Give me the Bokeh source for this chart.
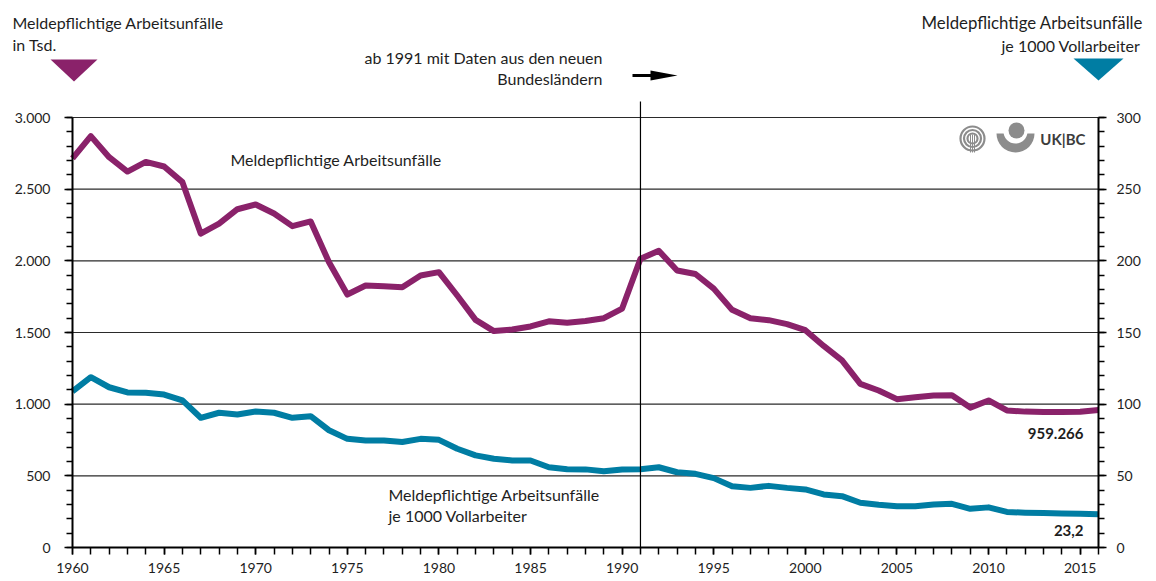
from bokeh.plotting import figure
from bokeh.models import (Range1d, LinearAxis, FixedTicker, Label, PolyAnnotation, Arrow)
from bokeh.embed import file_html
from bokeh.resources import INLINE

years = list(range(1960, 2017))
accidents_tsd = [2715, 2870, 2723, 2623, 2690, 2658, 2549, 2190, 2260, 2360,
                 2393, 2330, 2242, 2275, 1990, 1765, 1828, 1822, 1815, 1898,
                 1921, 1758, 1588, 1510, 1521, 1542, 1578, 1568, 1580, 1600,
                 1667, 2015, 2070, 1933, 1908, 1806, 1658, 1600, 1586, 1558,
                 1516, 1406, 1305, 1142, 1095, 1035, 1048, 1060, 1062, 976,
                 1026, 956, 948, 946, 946, 947, 959.266]
rate_per_1000 = [109.0, 118.8, 111.8, 108.2, 108.0, 106.7, 102.6, 90.5, 94.0, 92.8,
                 94.9, 94.0, 90.5, 91.6, 81.8, 75.8, 74.7, 74.7, 73.6, 75.8,
                 75.1, 68.9, 64.3, 61.9, 60.7, 60.7, 56.0, 54.6, 54.5, 53.2,
                 54.4, 54.6, 56.0, 52.5, 51.4, 48.4, 42.8, 41.6, 43.0, 41.6,
                 40.5, 37.0, 35.8, 31.2, 29.8, 28.8, 28.8, 30.0, 30.5, 27.0,
                 28.0, 24.8, 24.3, 24.0, 23.7, 23.5, 23.2]

left_ticks = [0, 500, 1000, 1500, 2000, 2500, 3000]
left_labels = ["0", "500", "1.000", "1.500", "2.000", "2.500", "3.000"]
right_ticks = [0, 50, 100, 150, 200, 250, 300]
x_label_years = [1960, 1965, 1970, 1975, 1980, 1985, 1990, 1995, 2000, 2005, 2010, 2015]

PURPLE = "#8A226A"
TEAL = "#007DA3"
FONT = "Lato"
TXT = "#1e1e1e"

W, H = 1156, 581
# plot-area placement on the canvas (pixels)
PX_L, PX_R, PX_T, PX_B = 72, 1098, 117, 547
X0, X1 = 1960, 2016
YMAX, RMAX = 3000, 300
ppy = (PX_R - PX_L) / (X1 - X0)
ppu = (PX_B - PX_T) / YMAX

def xr(px):
    return X0 + (px - PX_L) / ppy

def yl(py):
    return (PX_B - py) / ppu

p = figure(width=W, height=H, output_backend="svg", toolbar_location=None,
           x_range=Range1d(xr(0), xr(W)), y_range=Range1d(yl(H), yl(0)),
           x_axis_location=None, y_axis_location=None,
           min_border=0, min_border_left=0, min_border_right=0,
           min_border_top=0, min_border_bottom=0)
p.outline_line_color = None
p.grid.visible = False
p.extra_y_ranges = {"right": Range1d(yl(H) * RMAX / YMAX, yl(0) * RMAX / YMAX)}

# grid lines (between axes)
grid_y = left_ticks[1:]
p.segment(x0=[X0] * len(grid_y), x1=[X1] * len(grid_y), y0=grid_y, y1=grid_y,
          line_color="#2a2a2a", line_width=1.1)

xa = LinearAxis(fixed_location=0, bounds=(X0, X1),
                ticker=FixedTicker(ticks=x_label_years, minor_ticks=years))
ya = LinearAxis(fixed_location=X0, bounds=(0, YMAX),
                ticker=FixedTicker(ticks=left_ticks, minor_ticks=list(range(0, YMAX + 1, 100))))
ya.major_label_overrides = {t: l for t, l in zip(left_ticks, left_labels)}
ra = LinearAxis(y_range_name="right", fixed_location=X1, bounds=(0, RMAX),
                ticker=FixedTicker(ticks=right_ticks, minor_ticks=list(range(0, RMAX + 1, 10))))
p.add_layout(xa, "below")
p.add_layout(ya, "left")
p.add_layout(ra, "right")

for ax in [xa, ya, ra]:
    ax.axis_line_color = "black"
    ax.axis_line_width = 2
    ax.major_tick_line_color = "black"
    ax.minor_tick_line_color = "black"
    ax.major_tick_line_width = 1.5
    ax.minor_tick_line_width = 1.5
    ax.major_tick_in = 0
    ax.minor_tick_in = 0
    ax.major_label_text_font = FONT
    ax.major_label_text_font_size = "14px"
    ax.major_label_text_color = TXT

xa.major_tick_out = 7
xa.minor_tick_out = 7
xa.major_label_standoff = 8
ya.major_tick_out = 8
ya.minor_tick_out = 6
ya.major_label_standoff = 14
ra.major_tick_out = 8
ra.minor_tick_out = 6
ra.major_label_standoff = 10

# data lines
p.line(years, accidents_tsd, line_color=PURPLE, line_width=6, line_join="round")
p.line(years, rate_per_1000, line_color=TEAL, line_width=6, line_join="round",
       y_range_name="right")

# 1991 marker line (extends above plot)
p.add_layout(Arrow(end=None, x_start=1991, y_start=0, x_end=1991, y_end=yl(101),
                   line_color="black", line_width=1.2))
# arrow
p.add_layout(Arrow(end=None, x_start=xr(632), y_start=yl(75), x_end=xr(652), y_end=yl(75),
                   line_color="black", line_width=3))
p.add_layout(PolyAnnotation(xs=[xr(650), xr(650), xr(677)], ys=[yl(70), yl(80), yl(75)],
                            fill_color="black", fill_alpha=1, line_color=None))

# triangles
p.add_layout(PolyAnnotation(xs=[xr(50), xr(97), xr(73.5)], ys=[yl(59), yl(59), yl(81)],
                            fill_color=PURPLE, fill_alpha=1, line_color=None))
p.add_layout(PolyAnnotation(xs=[xr(1073), xr(1123), xr(1098)], ys=[yl(58), yl(58), yl(80)],
                            fill_color=TEAL, fill_alpha=1, line_color=None))

def lab(x, y, text, align="left", size="16px", style="normal", color=TXT):
    p.add_layout(Label(x=x, y=y, text=text, text_align=align, text_baseline="middle",
                       text_font=FONT, text_font_size=size, text_font_style=style,
                       text_color=color))

lab(xr(12), yl(22), "Meldepflichtige Arbeitsunfälle")
lab(xr(12), yl(44), "in Tsd.")
lab(xr(921), yl(22), "Meldepflichtige Arbeitsunfälle", size="16.8px")
lab(xr(1001), yl(45), "je 1000 Vollarbeiter")
lab(xr(602), yl(57), "ab 1991 mit Daten aus den neuen", align="right")
lab(xr(602), yl(78), "Bundesländern", align="right")
lab(xr(230), yl(159), "Meldepflichtige Arbeitsunfälle")
lab(xr(388), yl(494), "Meldepflichtige Arbeitsunfälle")
lab(xr(388), yl(515), "je 1000 Vollarbeiter")
lab(xr(1083), yl(433), "959.266", align="right", size="15px", style="bold")
lab(xr(1083), yl(530), "23,2", align="right", size="15px", style="bold")

# logo (decorative)
GRAY = "#8c8c8c"
p.wedge(x=[xr(1015)], y=[yl(133)], radius=19, radius_units="screen",
        start_angle=3.14159, end_angle=6.28318, fill_color=GRAY, line_color=None)
p.scatter(x=[xr(1015)], y=[yl(131)], size=24, fill_color="white", line_color=None)
p.scatter(x=[xr(1016)], y=[yl(130)], size=16, fill_color=GRAY, line_color=None)
p.scatter(x=[xr(972)] * 3, y=[yl(138)] * 3, size=[24, 17, 10], fill_color=None,
          line_color=GRAY, line_width=2.2)
p.segment(x0=[xr(970), xr(972), xr(974)], x1=[xr(970), xr(972), xr(974)],
          y0=[yl(134)] * 3, y1=[yl(152)] * 3, line_color=GRAY, line_width=1)
lab(xr(1085), yl(138), "UK|BC", align="right", size="15px", style="bold", color="#3c3c3c")

open("out.html", "w").write(file_html(p, INLINE))
